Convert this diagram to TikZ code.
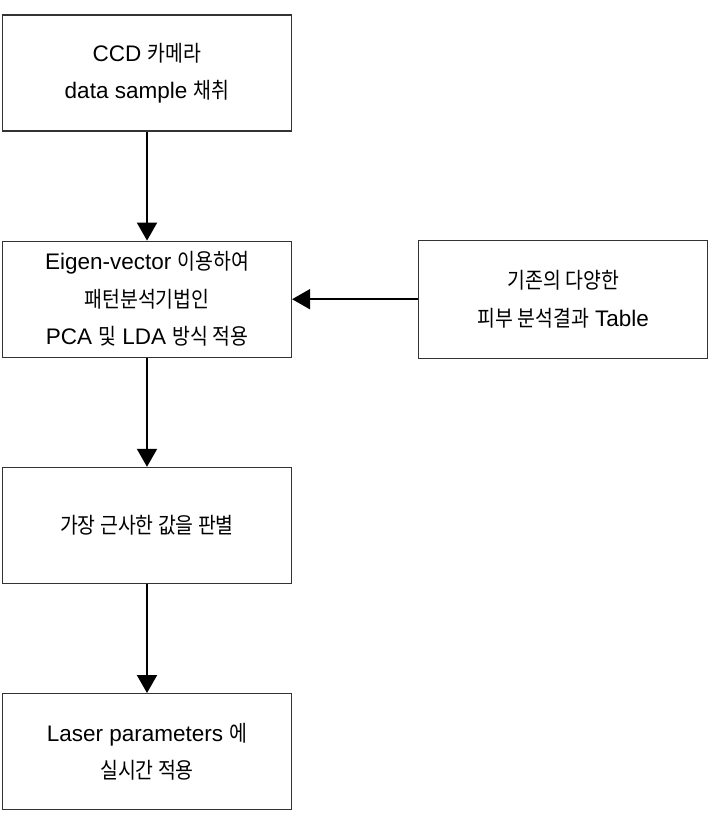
\documentclass[tikz,border=0pt]{standalone}
\usepackage{fontspec}
\setmainfont{Liberation Sans}
\newfontfamily\kr{Noto Sans CJK KR}[Scale=0.98,FakeStretch=0.88]
\newcommand{\hg}[1]{{\kr #1}}
\usetikzlibrary{positioning,arrows.meta}

\begin{document}
\begin{tikzpicture}[x=1pt,y=-1pt,
    stepbox/.style={draw=black!80,line width=1.2pt,minimum width=289pt,minimum height=116pt,
      inner sep=0pt,align=center,font=\fontsize{22.5}{37.5}\selectfont},
    flow/.style={-{Triangle[width=20pt,length=18pt]},line width=2pt}]
  \useasboundingbox (0,0) rectangle (712,831);
  \node[stepbox] (ccd) at (147,73) {CCD \hg{카메라}\\data sample \hg{채취}};
  \node[stepbox,below=109pt of ccd] (pca) {Eigen-vector \hg{이용하여}\\\hg{패턴분석기법인}\\PCA \hg{및} LDA \hg{방식 적용}};
  \node[stepbox,below=109pt of pca] (judge) {\hg{가장 근사한 값을 판별}};
  \node[stepbox,below=109pt of judge] (laser) {Laser parameters \hg{에}\\\hg{실시간 적용}};
  \node[stepbox,right=126pt of pca,minimum height=118pt] (table) {\hg{기존의 다양한}\\\hg{피부 분석결과} Table};
  % flow
  \draw[flow] (ccd) -- (pca);
  \draw[flow] (pca) -- (judge);
  \draw[flow] (judge) -- (laser);
  \draw[flow] (table) -- (pca);
\end{tikzpicture}
\end{document}
